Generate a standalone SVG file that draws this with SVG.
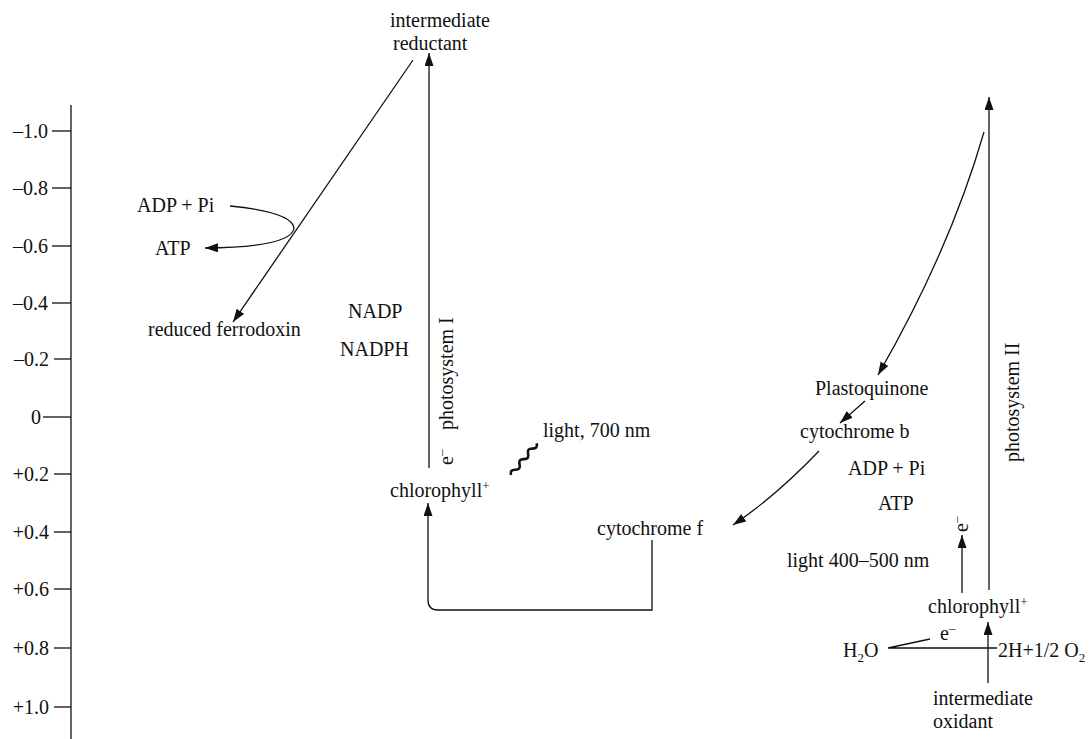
<svg xmlns="http://www.w3.org/2000/svg" width="1092" height="739" viewBox="0 0 1092 739">
<style>
.t{font-family:"Liberation Serif","Times New Roman",serif;font-size:20px;fill:#111}
.ax{text-anchor:end}
.ln{fill:none;stroke:#111;stroke-width:1.3}
.arr{marker-end:url(#ah)}
.sup{font-size:13px}
</style>
<defs>
<marker id="ah" markerWidth="14" markerHeight="10" refX="13" refY="4.5" orient="auto" markerUnits="userSpaceOnUse"><path d="M0,0 L13,4.5 L0,9 z" fill="#111"/></marker>
</defs>
<rect width="1092" height="739" fill="#fff"/>
<g id="axis">
<line class="ln" x1="71" y1="105" x2="71" y2="739"/>
<line class="ln" x1="52" y1="131" x2="71" y2="131"/>
<line class="ln" x1="52" y1="188" x2="71" y2="188"/>
<line class="ln" x1="52" y1="246" x2="71" y2="246"/>
<line class="ln" x1="52" y1="303" x2="71" y2="303"/>
<line class="ln" x1="54" y1="359" x2="71" y2="359"/>
<line class="ln" x1="43" y1="417" x2="71" y2="417"/>
<line class="ln" x1="54" y1="474" x2="71" y2="474"/>
<line class="ln" x1="54" y1="532" x2="71" y2="532"/>
<line class="ln" x1="54" y1="589" x2="71" y2="589"/>
<line class="ln" x1="54" y1="648" x2="71" y2="648"/>
<line class="ln" x1="54" y1="707" x2="71" y2="707"/>
<text class="t ax" x="48" y="138">–1.0</text>
<text class="t ax" x="48" y="195">–0.8</text>
<text class="t ax" x="48" y="253">–0.6</text>
<text class="t ax" x="48" y="310">–0.4</text>
<text class="t ax" x="49" y="366">–0.2</text>
<text class="t ax" x="41" y="424">0</text>
<text class="t ax" x="49" y="481">+0.2</text>
<text class="t ax" x="49" y="539">+0.4</text>
<text class="t ax" x="49" y="596">+0.6</text>
<text class="t ax" x="49" y="655">+0.8</text>
<text class="t ax" x="49" y="714">+1.0</text>
</g>
<g id="connectors">
<path class="ln arr" d="M413,60 L233,322"/>
<path class="ln arr" d="M429,468 V53"/>
<path class="ln arr" d="M230,206 Q292,212 294,228 Q292,247 205,248"/>
<path class="ln arr" d="M652,540 V610 H438 Q428,610 428,600 V503"/>
<path class="ln arr" d="M989,590 V97"/>
<path class="ln arr" d="M984,132 Q950,250 878,375"/>
<path class="ln arr" d="M865,401 L840,423"/>
<path class="ln arr" d="M819,451 Q776,496 733,525"/>
<path class="ln arr" d="M962,593 V535"/>
<path class="ln arr" d="M988,683 V622"/>
<path class="ln" d="M888,648 H997 M888,648 L930,639"/>
<path d="M0,0 q3.4,-4.5 6.8,0 t6.8,0 t6.8,0 t6.8,0 t6.8,0 t6.8,0" transform="translate(511,475) rotate(-51)" fill="none" stroke="#111" stroke-width="2.6"/>
</g>
<g id="intermediate-reductant"><text class="t" x="390" y="27">intermediate</text><text class="t" x="393" y="50">reductant</text></g>
<g id="adp-pi-1"><text class="t" x="137" y="212">ADP + Pi</text></g>
<g id="atp-1"><text class="t" x="155" y="255">ATP</text></g>
<g id="reduced-ferrodoxin"><text class="t" x="148" y="336">reduced ferrodoxin</text></g>
<g id="nadp"><text class="t" x="348" y="318">NADP</text></g>
<g id="nadph"><text class="t" x="340" y="356">NADPH</text></g>
<g id="photosystem-1"><text class="t" transform="translate(453,430) rotate(-90)">photosystem I</text><text class="t" transform="translate(453,465) rotate(-90)">e<tspan class="sup" dy="-8">–</tspan></text></g>
<g id="light-700"><text class="t" x="543" y="437">light, 700 nm</text></g>
<g id="chlorophyll-1"><text class="t" x="390" y="497">chlorophyll<tspan class="sup" dy="-7">+</tspan></text></g>
<g id="cytochrome-f"><text class="t" x="597" y="535">cytochrome f</text></g>
<g id="plastoquinone"><text class="t" x="815" y="395">Plastoquinone</text></g>
<g id="cytochrome-b"><text class="t" x="800" y="438">cytochrome b</text></g>
<g id="adp-pi-2"><text class="t" x="848" y="475">ADP + Pi</text></g>
<g id="atp-2"><text class="t" x="878" y="510">ATP</text></g>
<g id="e-2"><text class="t" transform="translate(968,532) rotate(-90)">e<tspan class="sup" dy="-8">–</tspan></text></g>
<g id="light-400"><text class="t" x="787" y="567">light 400–500 nm</text></g>
<g id="photosystem-2"><text class="t" transform="translate(1019,462) rotate(-90)">photosystem II</text></g>
<g id="chlorophyll-2"><text class="t" x="928" y="613">chlorophyll<tspan class="sup" dy="-7">+</tspan></text></g>
<g id="e-3"><text class="t" x="940" y="640">e<tspan class="sup" dy="-8">–</tspan></text></g>
<g id="h2o"><text class="t" x="843" y="657">H<tspan class="sup" dy="5">2</tspan><tspan dy="-5">O</tspan></text></g>
<g id="products"><text class="t" x="998" y="657">2H+1/2 O<tspan class="sup" dy="5">2</tspan></text></g>
<g id="intermediate-oxidant"><text class="t" x="933" y="705">intermediate</text><text class="t" x="933" y="728">oxidant</text></g>
</svg>
